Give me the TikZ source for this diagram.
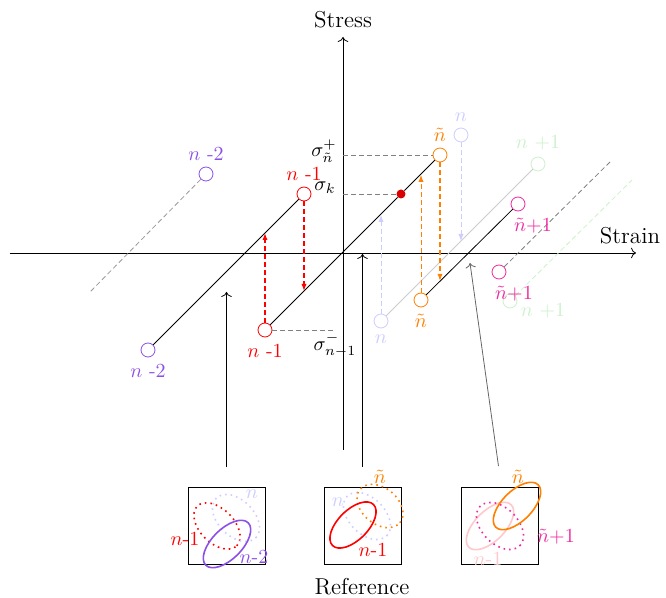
\documentclass[tikz,border=0pt]{standalone}
\usetikzlibrary{positioning,arrows.meta}
\definecolor{npurple}{RGB}{140,80,230}
\definecolor{nlav}{RGB}{205,205,255}
\definecolor{norange}{RGB}{255,128,0}
\definecolor{ngreen}{RGB}{205,240,205}
\definecolor{npink}{RGB}{240,40,160}
\definecolor{nlpink}{RGB}{255,200,205}

\begin{document}
\begin{tikzpicture}[x=0.5pt,y=-0.5pt,
  knot/.style={circle,draw=#1,fill=white,inner sep=0pt,minimum size=7pt},
  lab/.style={text=#1,inner sep=1pt},
  word/.style={font=\fontsize{11.5pt}{14pt}\selectfont,inner sep=1pt},
  guide/.style={dash pattern=on 2.5pt off 1.5pt,gray},
  jump/.style={dash pattern=on 2.5pt off 1.5pt,#1,-{Latex[length=3.5pt,width=2.6pt]}},
  state/.style={draw,minimum size=38.5pt,inner sep=0pt}]
\useasboundingbox (0,0) rectangle (666,598);

% axes
\coordinate (O) at (343,253);
\coordinate (xs) at (10,253);
\coordinate (xe) at (636,253);
\coordinate (ys) at (343,450);
\coordinate (ye) at (343,37);
\draw[->] (xs) -- (xe);
\draw[->] (ys) -- (ye);
\node[word] (strain) at (630,236) {Strain};
\node[word] (stress) at (343,20) {Stress};

% extension lines
\coordinate (e1) at (90,292);
\coordinate (e2) at (632,180);
\coordinate (e3) at (612,160);

% points on the loops
\node[knot=npurple] (nm2t) at (206,174) {};
\node[knot=npurple] (nm2b) at (148,350) {};
\node[knot=red] (nm1t) at (304,194) {};
\node[knot=red] (nm1b) at (265,330) {};
\node[knot=nlav] (nt) at (461,135) {};
\node[knot=nlav] (nb) at (381,321) {};
\node[knot=ngreen] (np1t) at (538,164) {};
\node[knot=ngreen] (np1b) at (510,301) {};
\node[knot=norange] (ntt) at (440,155) {};
\node[knot=norange] (ntb) at (421,300) {};
\node[knot=npink] (ntp1t) at (518,204) {};
\node[knot=npink] (ntp1b) at (499,272) {};
\node[circle,fill=red!85!black,inner sep=0pt,minimum size=4.5pt] (kdot) at (401,194) {};

\draw[guide,gray!80] (nm2t) -- (e1);
\draw[dash pattern=on 2.5pt off 1.5pt,ngreen] (np1b) -- (e2);
\draw[guide] (ntp1b) -- (e3);

\draw (nm2b) -- (nm1t);
\draw (nm1b) -- (kdot) -- (ntt);
\draw (ntb) -- (ntp1t);
\draw[gray!40] (nb) -- (np1t);

% stress levels
\coordinate (sm) at (335,330);
\draw[guide] (O |- ntt) -- (ntt);
\draw[guide] (O |- kdot) -- (kdot);
\draw[guide] (nm1b) -- (sm);
\node (sp) at (324,151) {$\sigma_{\tilde n}^{+}$};
\node (sk) at (325,188) {$\sigma_k$};
\node (sn) at (335,345) {$\sigma_{n-1}^{-}$};

% jumps between branches
\coordinate (ra) at (265,233);
\coordinate (rb) at (304,291);
\coordinate (la) at (381,215);
\coordinate (lb) at (461,241);
\coordinate (oa) at (421,175);
\coordinate (ob) at (440,281);
\draw[jump=red,semithick] (nm1b) -- (ra);
\draw[jump=red,semithick] (nm1t) -- (rb);
\draw[jump=nlav] (nb) -- (la);
\draw[jump=nlav] (nt) -- (lb);
\draw[jump=norange] (ntb) -- (oa);
\draw[jump=norange,thick] (ntt) -- (ob);

% labels
\node[lab=npurple,above=2pt of nm2t] (lnm2t) {$n$ -2};
\node[lab=npurple,below=2pt of nm2b] (lnm2b) {$n$ -2};
\node[lab=red,above=2pt of nm1t] (lnm1t) {$n$ -1};
\node[lab=red,below=2pt of nm1b] (lnm1b) {$n$ -1};
\node[lab=nlav,above=2pt of nt] (lnt) {$n$};
\node[lab=nlav,below=2pt of nb] (lnb) {$n$};
\node[lab=ngreen,above=2pt of np1t] (lnp1t) {$n$ +1};
\node[lab=ngreen] (lnp1b) at (543,311) {$n$ +1};
\node[lab=norange,above=2pt of ntt] (lntt) {$\tilde n$};
\node[lab=norange,below=2pt of ntb] (lntb) {$\tilde n$};
\node[lab=npink] (lntp1t) at (533,226) {$\tilde n$+1};
\node[lab=npink] (lntp1b) at (514,294) {$\tilde n$+1};

% states
\node[state] (box1) at (226.5,526) {};
\node[state,thick] (box2) at (363,526) {};
\node[state] (box3) at (499.5,526) {};
\node[word] (ref) at (362,587) {Reference};

\coordinate (a1) at (226.5,292);
\coordinate (a2) at (362.5,254);
\coordinate (a3) at (470,263);
\draw[->] ([yshift=10pt]box1.north) -- (a1);
\draw[->] ([xshift=-0.25pt,yshift=10pt]box2.north) -- (a2);
\draw[->,gray!80!black] ([xshift=-0.5pt,yshift=10.5pt]box3.north) -- (a3);

% box 1
\draw[red,dotted,thick] (217,526) circle [x radius=14pt,y radius=8.5pt,rotate=-45];
\draw[nlav,dotted,thick] (236,518) circle [x radius=14pt,y radius=9pt,rotate=-45];
\draw[npurple,thick] (227,544) circle [x radius=15pt,y radius=7.5pt,rotate=45];
\node[lab=nlav] (b1n) at (252,494) {$n$};
\node[lab=red] (b1m1) at (185,539) {$n$-1};
\node[lab=npurple] (b1m2) at (254,557) {$n$-2};

% box 2
\draw[nlav,dotted,thick] (367,516) circle [x radius=14pt,y radius=9pt,rotate=-45];
\draw[norange,dotted,thick] (380,506) circle [x radius=13pt,y radius=9pt,rotate=-40];
\draw[red,thick] (353,525) circle [x radius=14.5pt,y radius=7.5pt,rotate=45];
\node[lab=nlav] (b2n) at (338,502) {$n$};
\node[lab=norange] (b2t) at (380,477) {$\tilde n$};
\node[lab=red] (b2m1) at (373,550) {$n$-1};

% box 3
\draw[nlpink,thick] (490,526) circle [x radius=15pt,y radius=7.5pt,rotate=45];
\draw[npink,dotted,thick] (500,526) circle [x radius=14pt,y radius=9pt,rotate=-45];
\draw[norange,thick] (517,506) circle [x radius=15pt,y radius=7.5pt,rotate=45];
\node[lab=norange] (b3t) at (518,477) {$\tilde n$};
\node[lab=npink] (b3p1) at (556,537) {$\tilde n$+1};
\node[lab=nlpink] (b3m1) at (488,559) {$n$-1};
\end{tikzpicture}
\end{document}
